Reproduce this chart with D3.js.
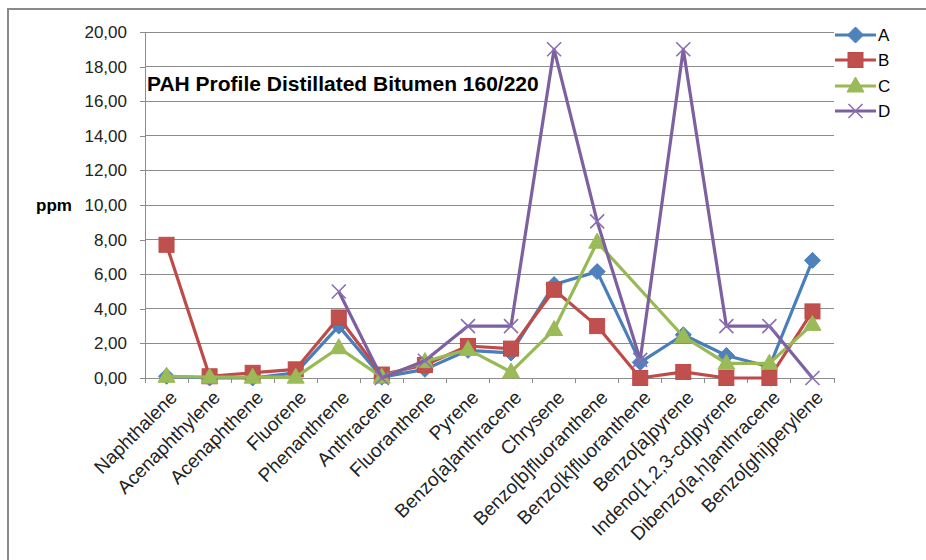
<!DOCTYPE html>
<html><head><meta charset="utf-8">
<script src="https://cdn.jsdelivr.net/npm/d3@7"></script>
<style>html,body{margin:0;padding:0;background:#fff;overflow:hidden}</style>
</head><body>
<svg id="c" width="926" height="560"></svg>
<script>
const categories = ["Naphthalene","Acenaphthylene","Acenaphthene","Fluorene","Phenanthrene","Anthracene","Fluoranthene","Pyrene","Benzo[a]anthracene","Chrysene","Benzo[b]fluoranthene","Benzo[k]fluoranthene","Benzo[a]pyrene","Indeno[1,2,3-cd]pyrene","Dibenzo[a,h]anthracene","Benzo[ghi]perylene"];
const seriesA = [0.1, 0.0, 0.0, 0.3, 3.0, 0.05, 0.5, 1.6, 1.45, 5.4, 6.15, 0.9, 2.5, 1.3, 0.65, 6.8];
const seriesB = [7.7, 0.1, 0.3, 0.5, 3.5, 0.2, 0.75, 1.85, 1.7, 5.1, 3.0, 0.0, 0.35, 0.0, 0.0, 3.85];
const seriesC = [0.1, 0.05, 0.05, 0.05, 1.75, 0.05, 0.95, 1.65, 0.35, 2.8, 7.85, null, 2.4, 0.85, 0.85, 3.1];
const seriesD = [null, null, null, null, 5.0, 0.0, 1.0, 3.0, 3.0, 19.0, 9.05, 1.05, 19.0, 3.0, 3.0, 0.0];
const seriesNames = ["A","B","C","D"];
const yTicks = [0,2,4,6,8,10,12,14,16,18,20];
const title = "PAH Profile Distillated Bitumen 160/220";
const yTitle = "ppm";

const colors = {A:"#4A7EBB", B:"#BE4B48", C:"#98B954", D:"#7D60A0"};
const fills = {A:"#4F81BD", B:"#C0504D", C:"#9BBB59", D:"#8064A2"};
const font = "'Liberation Sans', Arial, sans-serif";

const svg = d3.select("#c");
svg.append("rect").attr("x",8).attr("y",9).attr("width",1200).attr("height",1200)
  .attr("fill","#fff").attr("stroke","#8a8a8a").attr("stroke-width",2);

const L=145, R=834, T=32, B=378;
const x = d3.scaleBand().domain(categories).range([L,R]).padding(0);
const y = d3.scaleLinear().domain([0,20]).range([B,T]);
const cx = d => x(d) + x.bandwidth()/2;

// gridlines
svg.append("g").selectAll("line").data(yTicks.filter(v=>v>0)).join("line")
  .attr("x1",L).attr("x2",R).attr("y1",d=>y(d)).attr("y2",d=>y(d))
  .attr("stroke","#8c8c8c").attr("stroke-width",1).attr("shape-rendering","crispEdges");

// y axis
const yAxis = d3.axisLeft(y).tickValues(yTicks).tickSize(5).tickPadding(13)
  .tickFormat(d => d3.format(".2f")(d).replace(".", ","));
const gy = svg.append("g").attr("transform",`translate(${L},0)`).call(yAxis);
gy.select(".domain").attr("stroke","#8c8c8c").attr("shape-rendering","crispEdges");
gy.selectAll(".tick line").attr("stroke","#8c8c8c").attr("shape-rendering","crispEdges");
gy.selectAll(".tick text").attr("font-family",font).attr("font-size",17).attr("fill","#222");

// x axis
const xAxis = d3.axisBottom(x).tickSize(0).tickFormat("");
const gx = svg.append("g").attr("transform",`translate(0,${B})`).call(xAxis);
gx.select(".domain").attr("stroke","#8c8c8c").attr("shape-rendering","crispEdges");
gx.selectAll(".tick").remove();
const bounds = categories.map(c=>x(c)).concat([R]);
gx.selectAll("line.cat").data(bounds).join("line").attr("class","cat")
  .attr("x1",d=>d).attr("x2",d=>d).attr("y1",0).attr("y2",5)
  .attr("stroke","#8c8c8c").attr("shape-rendering","crispEdges");
svg.append("g").selectAll("text").data(categories).join("text")
  .attr("transform",d=>`translate(${cx(d)+7},${B+16}) rotate(-45)`)
  .attr("text-anchor","end").attr("dy","0.35em")
  .attr("font-family",font).attr("font-size",19).attr("fill","#222")
  .text(d=>d);

// title & y title
svg.append("text").attr("x",147).attr("y",91).attr("font-family",font)
  .attr("font-weight","bold").attr("font-size",21).attr("fill","#000").text(title);
svg.append("text").attr("x",36).attr("y",205).attr("dy","0.35em").attr("font-family",font)
  .attr("font-weight","bold").attr("font-size",17).attr("fill","#000").text(yTitle);

// markers
function marker(g, name, px, py){
  if(name==="A"){
    g.append("path").attr("d",`M${px},${py-8}L${px+8},${py}L${px},${py+8}L${px-8},${py}Z`)
      .attr("fill",fills.A).attr("stroke",colors.A).attr("stroke-width",1);
  } else if(name==="B"){
    g.append("rect").attr("x",px-7.5).attr("y",py-7.5).attr("width",15).attr("height",15)
      .attr("fill",fills.B).attr("stroke",colors.B).attr("stroke-width",1);
  } else if(name==="C"){
    g.append("path").attr("d",`M${px},${py-9}L${px+8.5},${py+6}L${px-8.5},${py+6}Z`)
      .attr("fill",fills.C).attr("stroke",colors.C).attr("stroke-width",1);
  } else {
    g.append("path").attr("d",`M${px-7},${py-7}L${px+7},${py+7}M${px-7},${py+7}L${px+7},${py-7}`)
      .attr("fill","none").attr("stroke","#8A6FB0").attr("stroke-width",1.6);
  }
}

const data = {A:seriesA, B:seriesB, C:seriesC, D:seriesD};
const line = d3.line().x(d=>cx(d.c)).y(d=>y(d.v));
seriesNames.forEach(name=>{
  const pts = categories.map((c,i)=>({c, v:data[name][i]})).filter(d=>d.v!==null);
  const g = svg.append("g");
  g.append("path").datum(pts).attr("d",line).attr("fill","none")
    .attr("stroke",colors[name]).attr("stroke-width",3.2).attr("stroke-linejoin","round");
  pts.forEach(p=>marker(g,name,cx(p.c),y(p.v)));
});

// legend
const legY = [35,60,86,111];
seriesNames.forEach((name,i)=>{
  const g = svg.append("g");
  g.append("line").attr("x1",835).attr("x2",876).attr("y1",legY[i]).attr("y2",legY[i])
    .attr("stroke",colors[name]).attr("stroke-width",3.2);
  marker(g,name,855.5,legY[i]);
  g.append("text").attr("x",878).attr("y",legY[i]).attr("dy","0.35em")
    .attr("font-family",font).attr("font-size",17).attr("fill","#000").text(name);
});
</script>
</body></html>
